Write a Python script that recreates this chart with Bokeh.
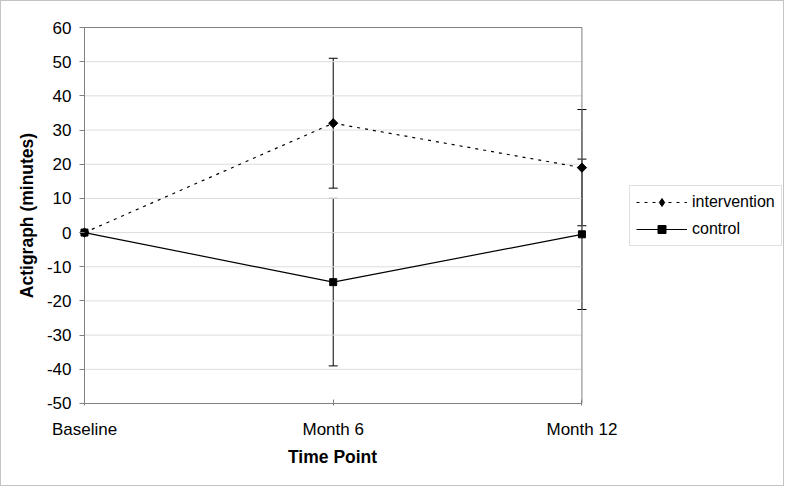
import math
from bokeh.plotting import figure
from bokeh.models import (ColumnDataSource, Whisker, TeeHead, Legend, LegendItem, FixedTicker, Title)
from bokeh.embed import file_html
from bokeh.resources import INLINE

categories = ["Baseline", "Month 6", "Month 12"]
intervention = [0, 32, 19]
intervention_err = [0, 19, 17]
control = [0, -14.5, -0.5]
control_err = [0, 24.5, 22]
y_ticks = [-50, -40, -30, -20, -10, 0, 10, 20, 30, 40, 50, 60]

x = list(range(len(categories)))
x_first, x_last = x[0], x[-1]
y_min, y_max = y_ticks[0], y_ticks[-1]

FONT = "Liberation Sans"
W, H = 784, 486
BORDER_L, BORDER_R, BORDER_T, BORDER_B = 78, 1, 24, 82
PLOT_W, PLOT_H = 496, 375          # pixel size of the category/value box
PAD_L, PAD_V = 5, 2                # frame padding so edge marks are not clipped
FRAME_W = W - BORDER_L - BORDER_R - 2
px_x = (x_last - x_first) / PLOT_W
px_y = (y_max - y_min) / PLOT_H

p = figure(width=W, height=H, output_backend="svg", toolbar_location=None,
           x_range=(x_first - PAD_L * px_x, x_first + (FRAME_W - PAD_L) * px_x),
           y_range=(y_min - PAD_V * px_y, y_max + PAD_V * px_y),
           min_border_left=BORDER_L, min_border_right=BORDER_R,
           min_border_top=BORDER_T, min_border_bottom=BORDER_B)
p.styles = {"border": "1px solid #c4c4c4", "box-sizing": "border-box"}
p.background_fill_color = "white"
p.border_fill_color = "white"
p.outline_line_color = None

# axes
p.xaxis.ticker = FixedTicker(ticks=x)
p.xaxis.major_label_overrides = {i: c for i, c in enumerate(categories)}
p.yaxis.ticker = FixedTicker(ticks=y_ticks)
p.yaxis.major_label_overrides = {v: str(v) for v in y_ticks}
for ax in (p.xaxis[0], p.yaxis[0]):
    ax.axis_line_color = None
    ax.major_tick_line_color = "#808080"
    ax.minor_tick_line_color = None
    ax.major_label_text_font = FONT
    ax.major_label_text_font_size = "17px"
    ax.major_label_text_color = "black"
    ax.axis_label_text_font = FONT
    ax.axis_label_text_font_size = "17.5px"
    ax.axis_label_text_font_style = "bold"
    ax.axis_label_text_color = "black"
p.xaxis.major_tick_in = 6
p.xaxis.major_tick_out = 0
p.yaxis.major_tick_in = PAD_L
p.yaxis.major_tick_out = 0
p.xaxis.major_label_standoff = 14
p.yaxis.major_label_standoff = 8
p.yaxis.axis_label = "Actigraph (minutes)"
p.yaxis.axis_label_standoff = 7

# x-axis title centred under the category span
p.add_layout(Title(text="Time Point", align="left", offset=PAD_L + PLOT_W / 2 - 44.5,
                   text_font=FONT, text_font_size="17.5px", text_font_style="bold",
                   text_color="black", standoff=6), "below")

p.xgrid.grid_line_color = None
p.ygrid.grid_line_color = None

# horizontal gridlines limited to the category span
inner = y_ticks[1:-1]
p.segment(x0=[x_first] * len(inner), x1=[x_last] * len(inner), y0=inner, y1=inner,
          line_color="#dcdcdc", line_width=1)
# plot-area box
p.segment(x0=[x_first, x_first, x_first, x_last], x1=[x_last, x_last, x_first, x_last],
          y0=[y_min, y_max, y_min, y_min], y1=[y_min, y_max, y_max, y_max],
          line_color="#808080", line_width=1)

src_i = ColumnDataSource(dict(x=x, y=intervention,
                              lo=[v - e for v, e in zip(intervention, intervention_err)],
                              hi=[v + e for v, e in zip(intervention, intervention_err)]))
src_c = ColumnDataSource(dict(x=x, y=control,
                              lo=[v - e for v, e in zip(control, control_err)],
                              hi=[v + e for v, e in zip(control, control_err)]))

for src in (src_i, src_c):
    w = Whisker(source=src, base="x", lower="lo", upper="hi", line_color="black", line_width=1,
                upper_head=TeeHead(size=9, line_color="black", line_width=1),
                lower_head=TeeHead(size=9, line_color="black", line_width=1))
    p.add_layout(w)

li = p.line("x", "y", source=src_i, line_color="black", line_width=1.2, line_dash="3 5")
si = p.scatter("x", "y", source=src_i, marker="square", angle=math.pi / 4, size=6.5, color="black")
lc = p.line("x", "y", source=src_c, line_color="black", line_width=1.2)
sc = p.scatter("x", "y", source=src_c, marker="square", size=7, color="black")
# legend-only diamond (the legend ignores marker rotation)
di = p.scatter("x", "y", source=src_i, marker="diamond", size=10, color="black", visible=False)

legend = Legend(items=[LegendItem(label="intervention", renderers=[li, di]),
                       LegendItem(label="control", renderers=[lc, sc])],
                location=(550, 159))
legend.border_line_color = "#c0c0c0"
legend.background_fill_color = "white"
legend.label_text_font = FONT
legend.label_text_font_size = "16px"
legend.label_text_color = "black"
legend.label_height = 20
legend.glyph_width = 51
legend.glyph_height = 20
legend.label_standoff = 5
legend.spacing = 7
legend.padding = 6
legend.margin = 0
p.add_layout(legend, "center")

open("out.html", "w").write(file_html(p, INLINE))
